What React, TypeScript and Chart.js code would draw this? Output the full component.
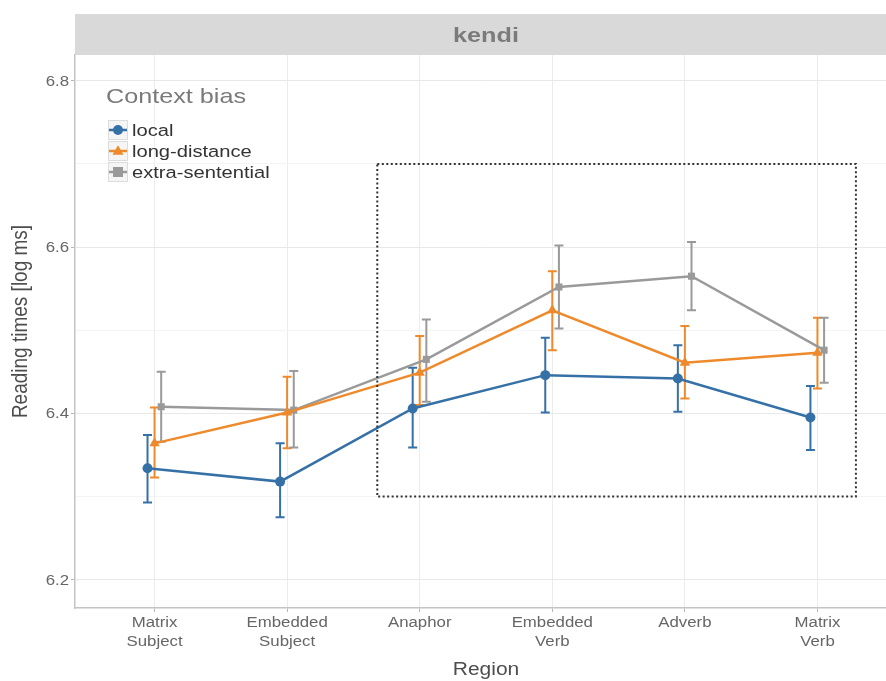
import React, { useEffect, useRef } from 'react';
import { Chart, registerables } from 'chart.js';

Chart.register(...registerables);

// ---- data ----
const regions: string[][] = [
  ['Matrix', 'Subject'],
  ['Embedded', 'Subject'],
  ['Anaphor'],
  ['Embedded', 'Verb'],
  ['Adverb'],
  ['Matrix', 'Verb'],
];
const yTickValues = [6.2, 6.3, 6.4, 6.5, 6.6, 6.7, 6.8];
const yMajorLabels = ['6.2', '6.4', '6.6', '6.8'];
const seriesNames = ['local', 'long-distance', 'extra-sentential'];
const stripTitle = 'kendi';
const legendTitle = 'Context bias';
const xTitle = 'Region';
const yTitle = 'Reading times [log ms]';

const localMean = [6.334, 6.318, 6.406, 6.446, 6.442, 6.395];
const localLow = [6.293, 6.275, 6.359, 6.401, 6.402, 6.356];
const localHigh = [6.374, 6.364, 6.455, 6.491, 6.482, 6.433];

const longMean = [6.364, 6.401, 6.449, 6.524, 6.461, 6.473];
const longLow = [6.323, 6.358, 6.41, 6.476, 6.418, 6.43];
const longHigh = [6.407, 6.444, 6.493, 6.571, 6.505, 6.515];

const extraMean = [6.408, 6.404, 6.465, 6.552, 6.565, 6.476];
const extraLow = [6.366, 6.359, 6.414, 6.502, 6.524, 6.437];
const extraHigh = [6.45, 6.451, 6.513, 6.602, 6.606, 6.515];

const boxXRange = [1.68, 5.29];
const boxYRange = [6.3, 6.7];

// ---- styles ----
const COLORS = ['#3571a7', '#ee8a2b', '#9a9a9a'];
const SHAPES = ['circle', 'triangle', 'rect'];
const DODGE = [-0.053, 0, 0.05];
const FONT = '"Liberation Sans", Arial, sans-serif';
const SX = 1.2; // horizontal text stretch seen in the reference

const means = [localMean, longMean, extraMean];
const lows = [localLow, longLow, extraLow];
const highs = [localHigh, longHigh, extraHigh];

function textS(ctx: CanvasRenderingContext2D, text: string, x: number, y: number, font: string, color: string, align: string, sx = SX) {
  ctx.save();
  ctx.font = font;
  ctx.fillStyle = color;
  ctx.textBaseline = 'alphabetic';
  ctx.textAlign = 'left';
  const w = ctx.measureText(text).width * sx;
  const left = align === 'center' ? x - w / 2 : align === 'right' ? x - w : x;
  ctx.translate(left, y);
  ctx.scale(sx, 1);
  ctx.fillText(text, 0, 0);
  ctx.restore();
}

function drawMarker(ctx: CanvasRenderingContext2D, shape: string, x: number, y: number, r: number, color: string) {
  ctx.save();
  ctx.fillStyle = color;
  ctx.beginPath();
  if (shape === 'circle') {
    ctx.arc(x, y, r, 0, Math.PI * 2);
  } else if (shape === 'triangle') {
    ctx.moveTo(x, y - r * 1.15);
    ctx.lineTo(x + r * 1.1, y + r * 0.75);
    ctx.lineTo(x - r * 1.1, y + r * 0.75);
    ctx.closePath();
  } else {
    ctx.rect(x - r, y - r, r * 2, r * 2);
  }
  ctx.fill();
  ctx.restore();
}

const stripPlugin = {
  id: 'strip',
  beforeDraw(chart: any) {
    const { ctx, chartArea } = chart;
    ctx.save();
    ctx.fillStyle = '#d9d9d9';
    ctx.fillRect(chartArea.left, 14, chart.width - chartArea.left, chartArea.top - 14);
    ctx.restore();
    // panel centre of the (cropped) original panel
    const cx = chart.scales.x.getPixelForValue(2.5);
    textS(ctx, stripTitle, cx, 42, `bold 21px ${FONT}`, '#7b7b7b', 'center');
  },
};

const labelsPlugin = {
  id: 'axisLabels',
  afterDraw(chart: any) {
    const { ctx } = chart;
    const xs = chart.scales.x;
    const ys = chart.scales.y;
    // y tick labels
    yTickValues.forEach((v) => {
      const t = v.toFixed(1);
      if (!yMajorLabels.includes(t)) return;
      const y = ys.getPixelForValue(v);
      textS(ctx, t, 69, y + 5, `14px ${FONT}`, '#666666', 'right');
    });
    // x tick labels
    regions.forEach((lines, i) => {
      const x = xs.getPixelForValue(i);
      lines.forEach((line, k) => {
        textS(ctx, line, x, 627 + k * 19, `14px ${FONT}`, '#666666', 'center');
      });
    });
    // axis titles
    textS(ctx, xTitle, xs.getPixelForValue(2.5), 675, `17.5px ${FONT}`, '#4d4d4d', 'center');
    ctx.save();
    ctx.translate(21, 321.5);
    ctx.rotate(-Math.PI / 2);
    ctx.scale(1, SX);
    ctx.font = `19px ${FONT}`;
    ctx.fillStyle = '#4d4d4d';
    ctx.textAlign = 'center';
    ctx.textBaseline = 'middle';
    ctx.fillText(yTitle, 0, 0);
    ctx.restore();
  },
};

const errorBarPlugin = {
  id: 'errorBars',
  beforeDatasetsDraw(chart: any) {
    const { ctx } = chart;
    const xs = chart.scales.x;
    const ys = chart.scales.y;
    ctx.save();
    for (let s = 0; s < 3; s++) {
      ctx.strokeStyle = COLORS[s];
      ctx.lineWidth = 2;
      for (let i = 0; i < regions.length; i++) {
        const x = xs.getPixelForValue(i + DODGE[s]);
        const y1 = ys.getPixelForValue(lows[s][i]);
        const y2 = ys.getPixelForValue(highs[s][i]);
        ctx.beginPath();
        ctx.moveTo(x, y1);
        ctx.lineTo(x, y2);
        ctx.moveTo(x - 4.5, y1);
        ctx.lineTo(x + 4.5, y1);
        ctx.moveTo(x - 4.5, y2);
        ctx.lineTo(x + 4.5, y2);
        ctx.stroke();
      }
    }
    ctx.restore();
  },
};

const boxPlugin = {
  id: 'dottedBox',
  afterDatasetsDraw(chart: any) {
    const { ctx } = chart;
    const xs = chart.scales.x;
    const ys = chart.scales.y;
    const x1 = xs.getPixelForValue(boxXRange[0]);
    const x2 = xs.getPixelForValue(boxXRange[1]);
    const y1 = ys.getPixelForValue(boxYRange[1]);
    const y2 = ys.getPixelForValue(boxYRange[0]);
    ctx.save();
    ctx.strokeStyle = '#333333';
    ctx.lineWidth = 2;
    ctx.setLineDash([2, 2.5]);
    ctx.strokeRect(x1, y1, x2 - x1, y2 - y1);
    ctx.restore();
  },
};

const legendPlugin = {
  id: 'customLegend',
  afterDraw(chart: any) {
    const { ctx } = chart;
    textS(ctx, legendTitle, 106, 103, `21px ${FONT}`, '#7a7a7a', 'left');
    const kx = 108;
    const rows = [130, 151, 172];
    for (let s = 0; s < 3; s++) {
      const cy = rows[s];
      ctx.save();
      ctx.fillStyle = '#f5f5f5';
      ctx.fillRect(kx, cy - 10, 20, 20);
      ctx.strokeStyle = '#dcdcdc';
      ctx.lineWidth = 1;
      ctx.strokeRect(kx + 0.5, cy - 9.5, 19, 19);
      ctx.strokeStyle = COLORS[s];
      ctx.lineWidth = 2.5;
      ctx.beginPath();
      ctx.moveTo(kx + 1, cy);
      ctx.lineTo(kx + 19, cy);
      ctx.stroke();
      ctx.restore();
      drawMarker(ctx, SHAPES[s], kx + 10, cy, 5, COLORS[s]);
      textS(ctx, seriesNames[s], 132, cy + 6, `16.8px ${FONT}`, '#333333', 'left');
    }
  },
};

export default function App() {
  const canvasRef = useRef<HTMLCanvasElement | null>(null);

  useEffect(() => {
    if (!canvasRef.current) return;
    const datasets = [0, 1, 2].map((s) => ({
      label: seriesNames[s],
      data: means[s].map((v, i) => ({ x: i + DODGE[s], y: v })),
      borderColor: COLORS[s],
      backgroundColor: COLORS[s],
      borderWidth: 2.5,
      pointStyle: SHAPES[s] as any,
      pointRadius: s === 1 ? 6 : 5,
      pointBorderWidth: 0,
      pointBackgroundColor: COLORS[s],
      showLine: true,
      tension: 0,
      fill: false,
    }));

    const chart = new Chart(canvasRef.current, {
      type: 'scatter',
      data: { datasets },
      plugins: [stripPlugin, errorBarPlugin, boxPlugin, labelsPlugin, legendPlugin],
      options: {
        animation: false,
        responsive: false,
        maintainAspectRatio: false,
        layout: { autoPadding: false, padding: { top: 55, right: 0, left: 0, bottom: 0 } },
        plugins: {
          legend: { display: false },
          tooltip: { enabled: false },
        },
        scales: {
          x: {
            type: 'linear',
            min: -0.6,
            max: 5.517,
            afterBuildTicks: (scale: any) => {
              scale.ticks = regions.map((_, i) => ({ value: i }));
            },
            afterFit: (scale: any) => {
              scale.height = 73;
            },
            ticks: { display: false },
            grid: {
              color: '#ececec',
              lineWidth: 1,
              tickLength: 4,
              tickColor: '#b5b5b5',
            },
            border: { display: true, color: '#c4c4c4', width: 1.5 },
          },
          y: {
            type: 'linear',
            min: 6.166,
            max: 6.831,
            afterBuildTicks: (scale: any) => {
              scale.ticks = yTickValues.map((v) => ({ value: v }));
            },
            afterFit: (scale: any) => {
              scale.width = 75;
            },
            ticks: { display: false },
            grid: {
              color: (c: any) => (yMajorLabels.includes(Number(c.tick?.value).toFixed(1)) ? '#e8e8e8' : '#f4f4f4'),
              lineWidth: 1,
              tickLength: 4,
              tickColor: (c: any) => (yMajorLabels.includes(Number(c.tick?.value).toFixed(1)) ? '#b5b5b5' : 'rgba(0,0,0,0)'),
            },
            border: { display: true, color: '#c4c4c4', width: 1.5 },
          },
        },
      },
    });
    return () => chart.destroy();
  }, []);

  return (
    <div style={{ position: 'absolute', left: 0, top: 0, width: 886, height: 681, background: '#ffffff' }}>
      <canvas ref={canvasRef} width={886} height={681} style={{ display: 'block', width: 886, height: 681 }} />
    </div>
  );
}
